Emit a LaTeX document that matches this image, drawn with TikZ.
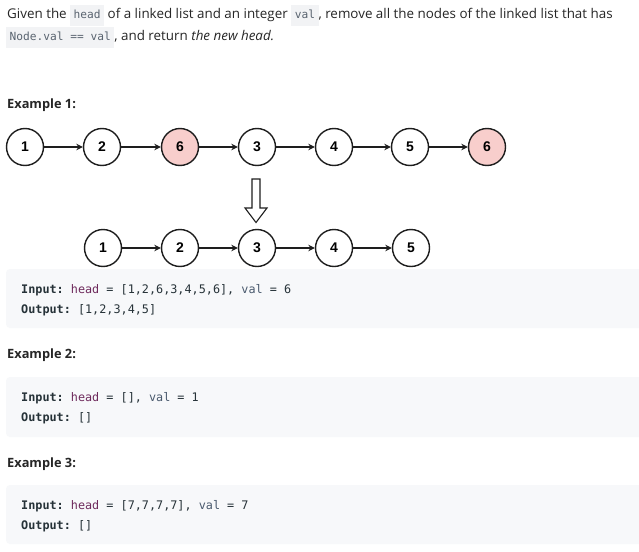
\documentclass[tikz,border=0pt]{standalone}
\usepackage{fontspec}
\setmainfont{Open Sans}
\setmonofont{DejaVu Sans Mono}
\newfontfamily\digitfont{Liberation Sans}
\usetikzlibrary{arrows.meta}

\definecolor{inktext}{HTML}{262626}
\definecolor{chipbg}{HTML}{F2F3F5}
\definecolor{chiptext}{HTML}{5A6470}
\definecolor{codebg}{HTML}{F7F8FA}
\definecolor{codetext}{HTML}{263238}
\definecolor{codevar}{HTML}{6E2A5C}
\definecolor{codekw}{HTML}{4A5A6E}
\definecolor{nodered}{HTML}{F8CECC}
\definecolor{nodeline}{HTML}{1E1E1E}

% inline code chip
\newcommand{\chip}[1]{{\setlength{\fboxsep}{3.5pt}\colorbox{chipbg}{\textcolor{chiptext}{\ttfamily\fontsize{11.2}{13}\selectfont\rule[-4.5pt]{0pt}{14.5pt}#1}}}}
\newcommand{\hv}{\textcolor{codevar}{head}}
\newcommand{\vv}{\textcolor{codekw}{val}}

\tikzset{
  prose/.style={anchor=base west, inner sep=0pt, text=inktext, font=\fontsize{13.4}{15}\selectfont},
  heading/.style={anchor=base west, inner sep=0pt, text=inktext, font=\fontsize{12.8}{15}\selectfont\bfseries},
  codeline/.style={anchor=base west, inner sep=0pt, text=codetext, font=\ttfamily\fontsize{11.8}{14}\selectfont},
  codebox/.style={fill=codebg, draw=none, rounded corners=4pt},
  listnode/.style={circle, draw=nodeline, line width=1.4pt, fill=white, minimum size=37pt, inner sep=0pt,
                   font=\digitfont\bfseries\fontsize{14}{15}\selectfont, text=black},
  gone/.style={listnode, fill=nodered},
  link/.style={draw=nodeline, line width=1.2pt, -{Stealth[length=6.5pt,width=6.5pt]}},
}

\begin{document}
\begin{tikzpicture}[x=1pt,y=-1pt]
\useasboundingbox (0,0) rectangle (639,551);
\fill[white] (0,0) rectangle (639,551);

% problem statement
\node[prose] (l1) at (7,18.5) {Given the \chip{head} of a linked list and an integer \chip{val}, remove all the nodes of the linked list that has};
\node[prose] (l2) at (9.5,40.5) {\hspace{-3.5pt}\chip{Node.val == val}, and return \textit{the new head.}};

% example 1
\node[heading] (h1) at (7,108) {Example 1:};

\node[listnode] (a1) at (25,147) {1};
\node[listnode] (a2) at (102,147) {2};
\node[gone]     (a3) at (180,147) {6};
\node[listnode] (a4) at (257,147) {3};
\node[listnode] (a5) at (334,147) {4};
\node[listnode] (a6) at (410,147) {5};
\node[gone]     (a7) at (487,147) {6};
\foreach \p/\q in {a1/a2,a2/a3,a3/a4,a4/a5,a5/a6,a6/a7}
  \draw[link] (\p) -- (\q);

% hollow arrow between the two lists
\draw[draw=nodeline, line width=1.1pt, fill=white, line join=miter]
  (252,179) -- (260,179) -- (260,208) -- (267,208) -- (256,222.5) -- (245,208) -- (252,208) -- cycle;

\node[listnode] (b1) at (103,248) {1};
\node[listnode] (b2) at (180,248) {2};
\node[listnode] (b3) at (257,248) {3};
\node[listnode] (b4) at (334,248) {4};
\node[listnode] (b5) at (411,248) {5};
\foreach \p/\q in {b1/b2,b2/b3,b3/b4,b4/b5}
  \draw[link] (\p) -- (\q);

\fill[codebox] (6,269) rectangle (645,328);
\node[codeline] (i1) at (21,293) {\textbf{Input:} \hv{} = [1,2,6,3,4,5,6], \vv{} = 6};
\node[codeline] (o1) at (21,313) {\textbf{Output:} [1,2,3,4,5]};

% example 2
\node[heading] (h2) at (7,358) {Example 2:};
\fill[codebox] (6,377) rectangle (645,437);
\node[codeline] (i2) at (21,401) {\textbf{Input:} \hv{} = [], \vv{} = 1};
\node[codeline] (o2) at (21,421) {\textbf{Output:} []};

% example 3
\node[heading] (h3) at (7,467) {Example 3:};
\fill[codebox] (6,485) rectangle (645,544);
\node[codeline] (i3) at (21,509) {\textbf{Input:} \hv{} = [7,7,7,7], \vv{} = 7};
\node[codeline] (o3) at (21,529) {\textbf{Output:} []};
\end{tikzpicture}
\end{document}
